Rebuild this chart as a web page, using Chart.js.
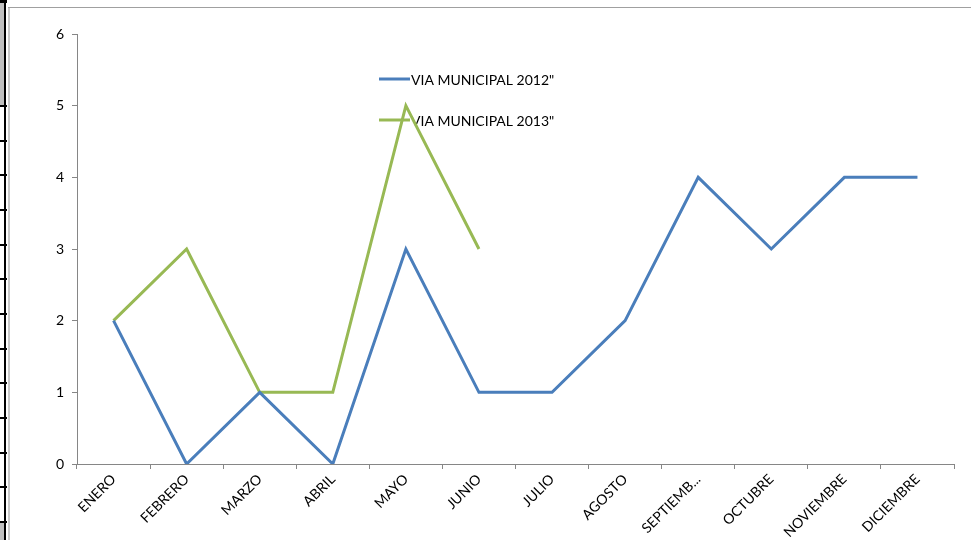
<!DOCTYPE html>
<html>
<head>
<meta charset="utf-8">
<script src="https://cdn.jsdelivr.net/npm/chart.js@4.4.0/dist/chart.umd.min.js"></script>
<style>
html,body{margin:0;padding:0;background:#fff;}
#wrap{position:relative;width:971px;height:540px;}
</style>
</head>
<body>
<div id="wrap"><canvas id="c" width="971" height="540"></canvas></div>
<script>
const months = ["ENERO","FEBRERO","MARZO","ABRIL","MAYO","JUNIO","JULIO","AGOSTO","SEPTIEMB...","OCTUBRE","NOVIEMBRE","DICIEMBRE"];
const via2012 = [2,0,1,0,3,1,1,2,4,3,4,4];
const via2013 = [2,3,1,1,5,3,null,null,null,null,null,null];
const seriesNames = ['VIA MUNICIPAL 2012"','VIA MUNICIPAL 2013"'];
const yTicks = [0,1,2,3,4,5,6];

const FONT = 'Lato, "Open Sans", sans-serif';

const frame = {
  id:'frame',
  beforeDraw(chart){
    const ctx = chart.ctx;
    ctx.save();
    ctx.fillStyle='#fff';
    ctx.fillRect(0,0,chart.width,chart.height);
    // spreadsheet edge
    ctx.fillStyle='#c0c0c0';
    ctx.fillRect(0,0,4,106);
    ctx.fillRect(0,522,4,18);
    ctx.fillStyle='#000';
    ctx.fillRect(4,0,2,540);
    ctx.fillRect(0,0,7,3);
    for(let i=0;i<13;i++){
      const y=Math.round(106+i*34.67);
      ctx.fillRect(0,y-1,7,2);
    }
    // chart frame
    ctx.fillStyle='#c8c8c8';
    ctx.fillRect(8,7,2,533);
    ctx.fillStyle='#a0a0a0';
    ctx.fillRect(8,7,963,1);
    ctx.restore();
  }
};

const legendPlugin = {
  id:'customLegend',
  beforeDatasetsDraw(chart){
    const ctx=chart.ctx;
    ctx.save();
    chart.data.datasets.forEach((ds,i)=>{
      const y = 79 + i*41;
      ctx.strokeStyle=ds.borderColor;
      ctx.lineWidth=3;
      ctx.beginPath();
      ctx.moveTo(379,y);ctx.lineTo(410,y);ctx.stroke();
      ctx.fillStyle='#000';
      ctx.font='14px '+FONT;
      ctx.textBaseline='middle';
      ctx.textAlign='left';
      ctx.fillText(ds.label,411,y+1);
    });
    ctx.restore();
  }
};

new Chart(document.getElementById('c'),{
  type:'line',
  data:{
    labels:months,
    datasets:[
      {label:seriesNames[0],data:via2012,borderColor:'#4a7ebb',backgroundColor:'#4a7ebb',borderWidth:3,pointRadius:0,tension:0,spanGaps:false},
      {label:seriesNames[1],data:via2013,borderColor:'#98b954',backgroundColor:'#98b954',borderWidth:3,pointRadius:0,tension:0,spanGaps:false}
    ]
  },
  options:{
    responsive:false,
    animation:false,
    devicePixelRatio:1,
    layout:{padding:{left:0,right:17,top:34,bottom:0}},
    plugins:{legend:{display:false},tooltip:{enabled:false}},
    scales:{
      x:{
        offset:true,
        grid:{display:true,drawOnChartArea:false,drawTicks:true,tickLength:5,color:'#868686',offset:true},
        border:{display:true,color:'#868686',width:1},
        ticks:{font:{family:FONT,size:14},color:'#000',maxRotation:45,minRotation:45,autoSkip:false,padding:2},
        afterFit(s){s.height=76;}
      },
      y:{
        min:0,max:6,
        afterBuildTicks(s){s.ticks=yTicks.map(v=>({value:v}));},
        grid:{display:true,drawOnChartArea:false,drawTicks:true,tickLength:5,color:'#868686'},
        border:{display:true,color:'#868686',width:1},
        ticks:{font:{family:FONT,size:14},color:'#000',padding:8},
        afterFit(s){s.width=77;}
      }
    }
  },
  plugins:[frame,legendPlugin]
});
</script>
</body>
</html>
